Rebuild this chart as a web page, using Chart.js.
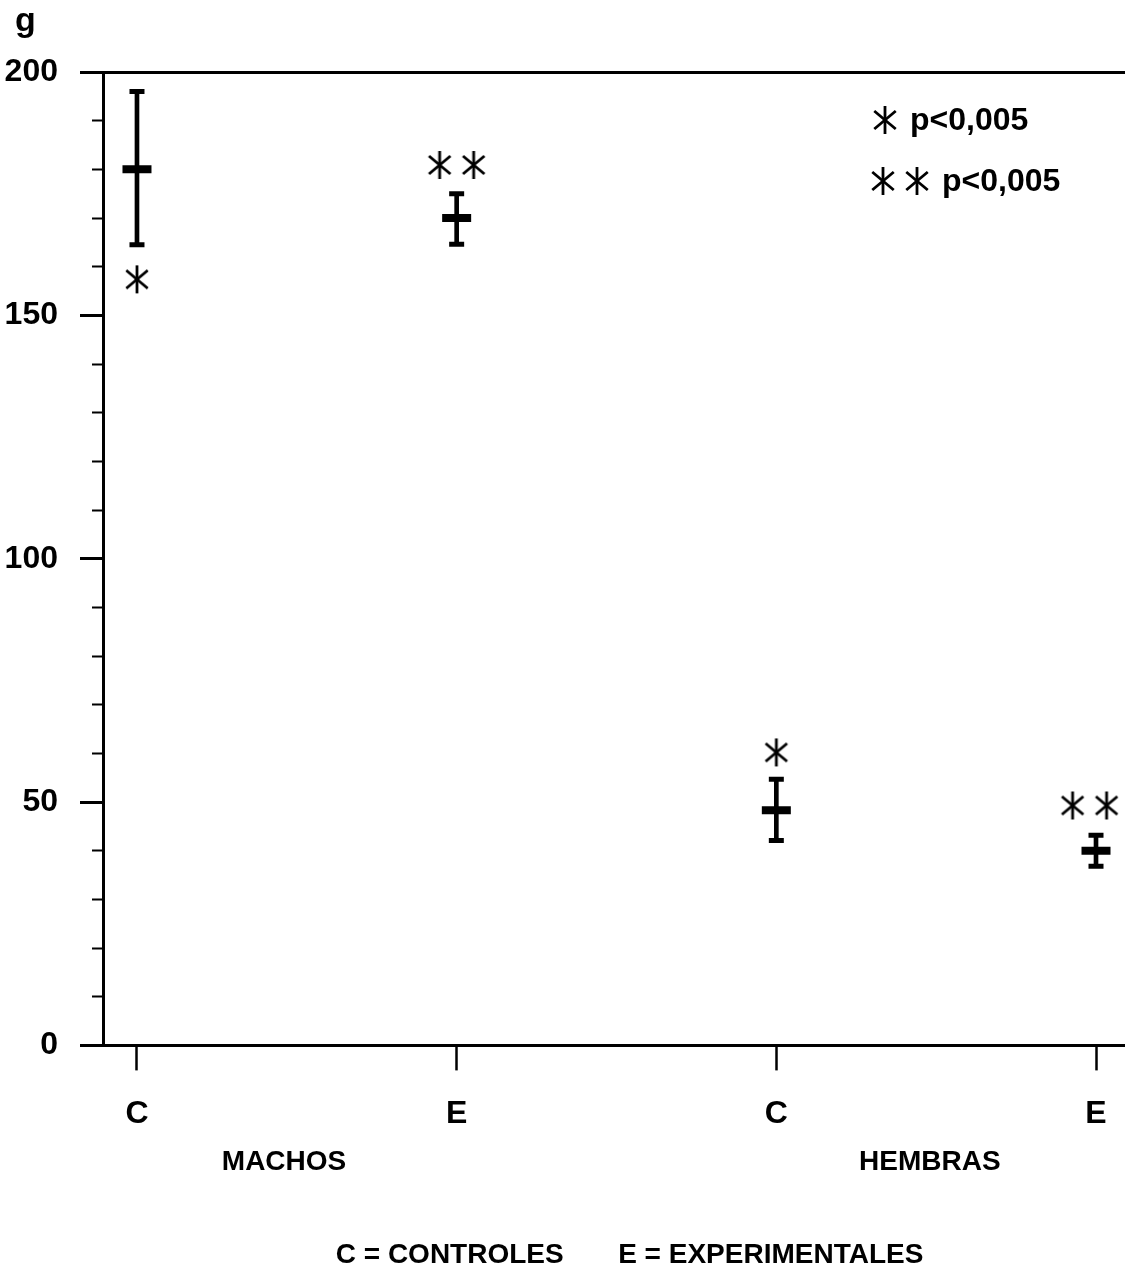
<!DOCTYPE html>
<html>
<head>
    <title>Peso MACHOS / HEMBRAS</title>
    <script src="https://cdn.jsdelivr.net/npm/chart.js@4.4.1/dist/chart.umd.min.js"></script>
    <style>
        body {
            margin: 0;
            background-color: #fff;
        }
    </style>
</head>
<body>
<canvas id="pesoChart" width="1125" height="1275"></canvas>
<script>
    // posiciones en el eje x: C y E de machos, C y E de hembras
    const positions = [1, 2, 3, 4];
    const tickLabels = ['C', 'E', 'C', 'E'];
    const groupLabels = ['MACHOS', 'HEMBRAS'];
    const groupPositions = [1.46, 3.48];

    // media y extremos de la barra de error (g)
    const means = [180, 170, 48.3, 40];
    const upper = [196, 175, 54.7, 43.2];
    const lower = [164.5, 164.6, 42.1, 36.8];

    // asteriscos de significación
    const oneStarX = [1, 3];
    const oneStarY = [157.4, 60.2];
    const twoStarX = [2, 3.98];
    const twoStarY = [180.9, 49.3];

    const unit = 'g';
    const pValue = 'p<0,005';
    const footer = '    C = CONTROLES       E = EXPERIMENTALES';

    const FONT = "'Liberation Sans', Arial, sans-serif";
    const X_MIN = 0.8937, X_MAX = 4.0907;

    // dibuja n asteriscos de 6 brazos en un canvas pequeño
    function makeStars(n) {
        const r = 14, gap = 34;
        const c = document.createElement('canvas');
        c.width = (n - 1) * gap + 2 * r + 4;
        c.height = 2 * r + 4;
        const g = c.getContext('2d');
        g.strokeStyle = '#000';
        g.lineWidth = 2.8;
        for (let k = 0; k < n; k++) {
            const cx = r + 2 + k * gap, cy = r + 2;
            [90, 40, -40].forEach(function (deg) {
                const a = deg * Math.PI / 180;
                g.beginPath();
                g.moveTo(cx - Math.cos(a) * r, cy - Math.sin(a) * r);
                g.lineTo(cx + Math.cos(a) * r, cy + Math.sin(a) * r);
                g.stroke();
            });
        }
        return c;
    }
    const oneStar = makeStars(1);
    const twoStars = makeStars(2);

    // unidad del eje y y leyenda de p dentro del área del gráfico
    const notes = {
        id: 'notes',
        afterDraw(chart) {
            const ctx = chart.ctx, area = chart.chartArea;
            ctx.save();
            ctx.fillStyle = '#000';
            ctx.textAlign = 'left';
            ctx.textBaseline = 'alphabetic';
            ctx.font = 'bold 34px ' + FONT;
            ctx.fillText(unit, 15, 31);

            ctx.font = 'bold 32px ' + FONT;
            ctx.textBaseline = 'middle';
            let x = area.right - 240, y = area.top + 48;
            ctx.drawImage(oneStar, x - oneStar.width / 2, y - oneStar.height / 2);
            ctx.fillText(pValue, x + 25, y + 1);
            x = area.right - 225; y = area.top + 109;
            ctx.drawImage(twoStars, x - twoStars.width / 2, y - twoStars.height / 2);
            ctx.fillText(pValue, x + 42, y + 1);
            ctx.restore();
        }
    };

    // sin márgenes extra a los lados de los ejes horizontales
    function noSidePadding(s) {
        s.paddingLeft = 0;
        s.paddingRight = 0;
    }

    new Chart('pesoChart', {
        type: 'scatter',
        data: {
            datasets: [{
                type: 'bar',
                data: positions.map((x, i) => ({x: x, y: [lower[i], upper[i]]})),
                backgroundColor: '#000',
                barThickness: 4
            }, {
                // topes de la barra de error
                data: positions.concat(positions).map((x, i) => ({x: x, y: upper.concat(lower)[i]})),
                pointStyle: 'line',
                pointRadius: 7.5,
                borderColor: '#000',
                borderWidth: 5
            }, {
                // media
                data: positions.map((x, i) => ({x: x, y: means[i]})),
                pointStyle: 'line',
                pointRadius: 14.5,
                borderColor: '#000',
                borderWidth: 8
            }, {
                data: oneStarX.map((x, i) => ({x: x, y: oneStarY[i]})),
                pointStyle: oneStar
            }, {
                data: twoStarX.map((x, i) => ({x: x, y: twoStarY[i]})),
                pointStyle: twoStars
            }]
        },
        options: {
            responsive: false,
            animation: false,
            layout: {
                autoPadding: false,
                padding: {left: 0, right: 0, top: 72, bottom: 0}
            },
            plugins: {
                legend: {display: false},
                tooltip: {enabled: false},
                title: {
                    display: true,
                    position: 'bottom',
                    fullSize: false,
                    text: footer,
                    color: '#000',
                    font: {family: FONT, size: 28, weight: 'bold'},
                    padding: {top: 38, bottom: 3}
                }
            },
            scales: {
                x: {
                    type: 'linear',
                    position: 'bottom',
                    weight: 0,
                    offset: false,
                    min: X_MIN,
                    max: X_MAX,
                    afterBuildTicks: s => { s.ticks = positions.map(v => ({value: v})); },
                    afterFit: s => { s.height = 90; noSidePadding(s); },
                    ticks: {
                        callback: (v, i) => tickLabels[i],
                        color: '#000',
                        padding: 25,
                        maxRotation: 0,
                        font: {family: FONT, size: 32, weight: 'bold'}
                    },
                    grid: {
                        offset: false,
                        drawOnChartArea: false,
                        color: '#000',
                        tickLength: 25,
                        tickWidth: 2.5
                    },
                    border: {color: '#000', width: 3}
                },
                xGroup: {
                    type: 'linear',
                    position: 'bottom',
                    weight: 1,
                    offset: false,
                    min: X_MIN,
                    max: X_MAX,
                    afterBuildTicks: s => { s.ticks = groupPositions.map(v => ({value: v})); },
                    afterFit: s => { s.height = 65; noSidePadding(s); },
                    ticks: {
                        callback: (v, i) => groupLabels[i],
                        color: '#000',
                        padding: 10,
                        maxRotation: 0,
                        font: {family: FONT, size: 28, weight: 'bold'}
                    },
                    grid: {display: false, drawTicks: false},
                    border: {display: false}
                },
                xTop: {
                    type: 'linear',
                    position: 'top',
                    offset: false,
                    min: X_MIN,
                    max: X_MAX,
                    afterFit: noSidePadding,
                    ticks: {display: false},
                    grid: {drawOnChartArea: false, drawTicks: false},
                    border: {color: '#000', width: 3}
                },
                y: {
                    min: 0,
                    max: 200,
                    afterFit: s => { s.width = 103; },
                    ticks: {
                        stepSize: 10,
                        autoSkip: false,
                        color: '#000',
                        padding: 22,
                        callback: v => (v % 50 === 0 ? v : ''),
                        font: {family: FONT, size: 32, weight: 'bold'}
                    },
                    grid: {
                        drawOnChartArea: false,
                        color: '#000',
                        tickLength: 23,
                        tickWidth: c => (c.tick && c.tick.value % 50 === 0 ? 3 : 2),
                        // marcas menores: solo los 11 px pegados al eje
                        tickBorderDash: c => (c.tick && c.tick.value % 50 === 0 ? [] : [0, 12, 11, 100])
                    },
                    border: {color: '#000', width: 3}
                }
            }
        },
        plugins: [notes]
    });
</script>
</body>
</html>
